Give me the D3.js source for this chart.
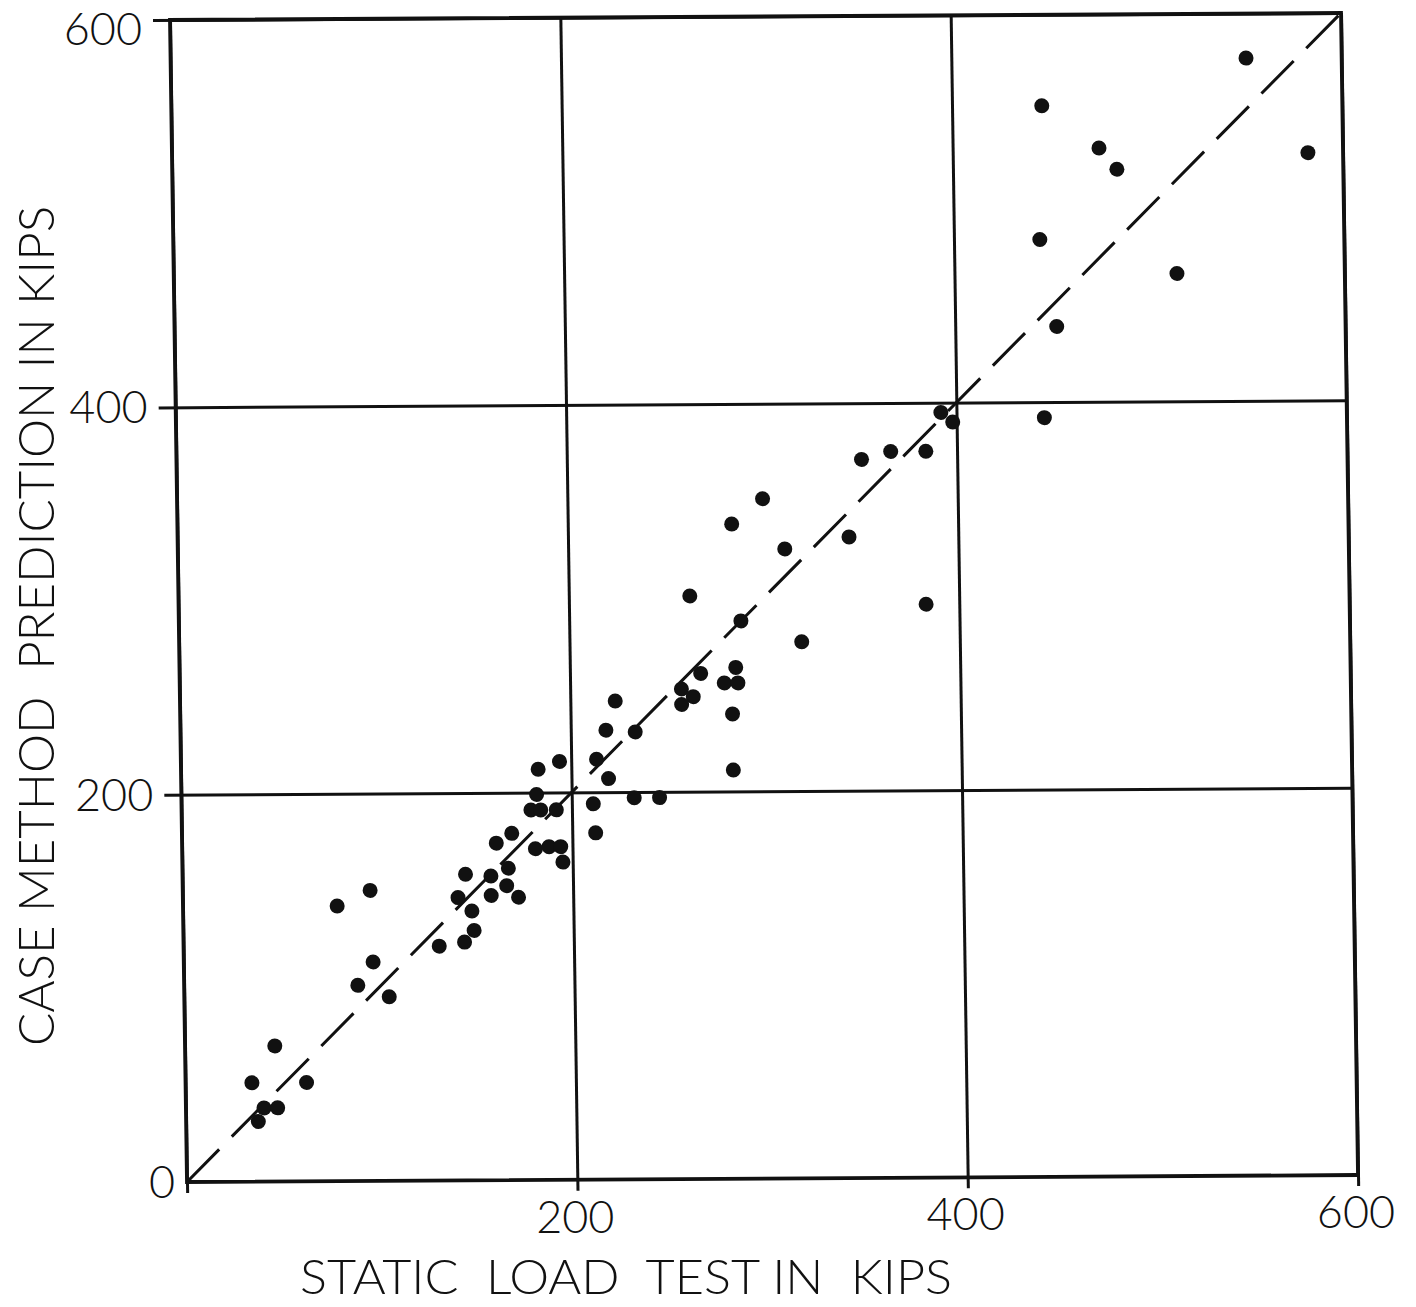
<!DOCTYPE html>
<html>
<head>
<meta charset="utf-8">
<script src="https://cdn.jsdelivr.net/npm/d3@7"></script>
<style>
  html, body { margin: 0; padding: 0; background: #fff; }
  text { font-family: Lato, "Liberation Sans", sans-serif; font-weight: 300; fill: #111; }
</style>
</head>
<body>
<div id="chart"></div>
<script>
// static load test (x) vs case method prediction (y), kips
const loadTest = [551, 446, 475, 484, 582, 444, 514, 452, 445, 392, 398, 351, 366, 384, 383,
    300, 284, 311, 344, 262, 288, 319, 267, 257, 263, 257, 285, 279, 286, 283, 283,
    223, 218, 233, 213, 219, 194, 183, 182, 179, 184, 192, 211, 232, 245, 212, 169, 161,
    181, 188, 194, 195, 167, 145, 158, 166, 141, 158, 172, 148, 149, 144, 131,
    96, 79, 97, 89, 105, 46, 34, 62, 40, 47, 37];
const casePrediction = [577, 553, 531, 520, 528, 484, 466, 439, 392, 395, 390, 371, 375, 375, 296,
    351, 338, 325, 331, 301, 288, 277, 261, 253, 249, 245, 264, 256, 256, 240, 211,
    247, 232, 231, 217, 207, 216, 212, 199, 191, 191, 191, 194, 197, 197, 179, 179, 174,
    171, 172, 172, 164, 161, 158, 157, 152, 146, 147, 146, 139, 129, 123, 121,
    150, 142, 113, 101, 95, 70, 51, 51, 38, 38, 31];
const xTicks = [0, 200, 400, 600];
const yTicks = [0, 200, 400, 600];
const xTitle = 'STATIC  LOAD  TEST IN  KIPS';
const yTitle = 'CASE METHOD  PREDICTION IN KIPS';

const width = 1416, height = 1307;
const W = 1171, H = 1162;
// the scanned frame is slightly skewed
const mat = {a: 1, b: -7 / 1171, c: 17 / 1162, d: 1, e: 170, f: 20};
const toScreen = (u, v) => [mat.a * u + mat.c * v + mat.e, mat.b * u + mat.d * v + mat.f];

const x = d3.scaleLinear().domain([0, 600]).range([0, W]);
const y = d3.scaleLinear().domain([0, 600]).range([H, 0]);

const svg = d3.select('#chart')
    .append('svg')
    .attr('width', width)
    .attr('height', height);

svg.append('rect').attr('width', width).attr('height', height).attr('fill', '#fff');

const g = svg.append('g')
    .attr('transform', `matrix(${mat.a},${mat.b},${mat.c},${mat.d},${mat.e},${mat.f})`);

// vertical grid lines, poking out below the frame
g.append('g')
    .attr('transform', `translate(0,${H + 11})`)
    .call(d3.axisBottom(x).tickValues(xTicks).tickSize(-(H + 11)).tickFormat(''))
    .call(a => a.select('.domain').remove())
    .selectAll('line').attr('stroke', '#111').attr('stroke-width', 3);

// horizontal grid lines, poking out left of the frame
g.append('g')
    .attr('transform', 'translate(-17,0)')
    .call(d3.axisLeft(y).tickValues(yTicks.filter(t => t > 0)).tickSize(-(W + 17)).tickFormat(''))
    .call(a => a.select('.domain').remove())
    .selectAll('line').attr('stroke', '#111').attr('stroke-width', 3);

g.append('rect')
    .attr('width', W)
    .attr('height', H)
    .attr('fill', 'none')
    .attr('stroke', '#111')
    .attr('stroke-width', 3.8);

// 1:1 line
g.append('path')
    .datum([0, 600])
    .attr('d', d3.line().x(d => x(d)).y(d => y(d)))
    .attr('fill', 'none')
    .attr('stroke', '#111')
    .attr('stroke-width', 3)
    .attr('stroke-dasharray', '46,18');

g.selectAll('circle')
    .data(loadTest.map((v, i) => [v, casePrediction[i]]))
    .join('circle')
    .attr('cx', d => x(d[0]))
    .attr('cy', d => y(d[1]))
    .attr('r', 7.5)
    .attr('fill', '#111');

// tick labels (upright, placed on the skewed frame)
svg.selectAll('.ylab')
    .data(yTicks)
    .join('text')
    .attr('class', 'ylab')
    .attr('x', d => toScreen(0, y(d))[0] - (d === 0 ? 12 : 28))
    .attr('y', d => Math.max(toScreen(0, y(d))[1] + 16, 45))
    .attr('text-anchor', 'end')
    .style('font-size', '45px')
    .text(d => d);

svg.selectAll('.xlab')
    .data(xTicks.filter(t => t > 0))
    .join('text')
    .attr('class', 'xlab')
    .attr('x', d => toScreen(x(d), H)[0] - 2)
    .attr('y', d => toScreen(x(d), H)[1] + 53)
    .attr('text-anchor', 'middle')
    .style('font-size', '45px')
    .text(d => d);

svg.append('text')
    .attr('x', 300)
    .attr('y', 1294)
    .attr('textLength', 652)
    .attr('lengthAdjust', 'spacingAndGlyphs')
    .style('font-size', '48px')
    .style('white-space', 'pre')
    .text(xTitle);

svg.append('text')
    .attr('transform', 'translate(54,1046) rotate(-90)')
    .attr('textLength', 840)
    .attr('lengthAdjust', 'spacingAndGlyphs')
    .style('font-size', '49px')
    .style('white-space', 'pre')
    .text(yTitle);
</script>
</body>
</html>
